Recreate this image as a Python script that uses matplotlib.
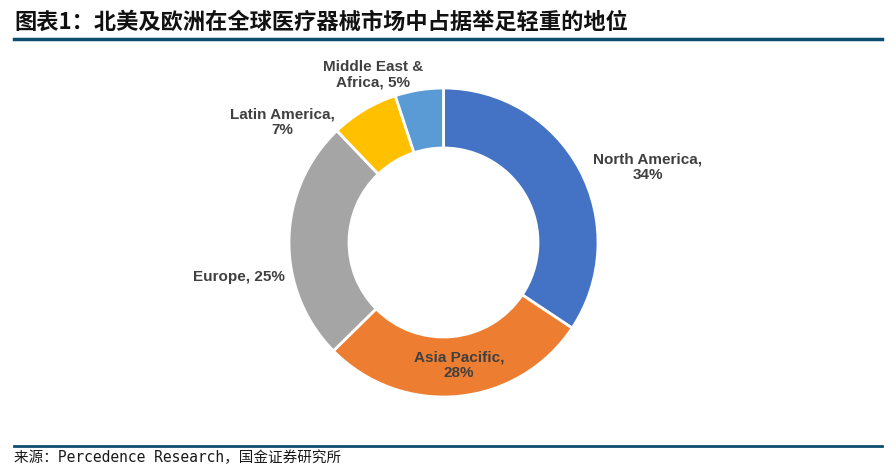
import numpy as np
import matplotlib.pyplot as plt

plt.rcParams['font.family'] = ['Liberation Sans', 'Noto Sans CJK SC', 'DejaVu Sans']

# 数据
regions = ['North America', 'Asia Pacific', 'Europe', 'Latin America', 'Middle East &\nAfrica']
shares = [34, 28, 25, 7, 5]
colors = ['#4472C4', '#ED7D31', '#A5A5A5', '#FFC000', '#5B9BD5']

title = '图表1：北美及欧洲在全球医疗器械市场中占据举足轻重的地位'
source = '来源：Percedence Research，国金证券研究所'

W, H = 896, 475
fig = plt.figure(figsize=(W / 100, H / 100), dpi=100)
ax = fig.add_axes([0, 0, 1, 1])

# 环形图
cx, cy, r = 443.5, H - 242.5, 154.5
wedges, _ = ax.pie(shares, colors=colors, startangle=90, counterclock=False,
                   center=(cx, cy), radius=r, frame=True,
                   wedgeprops=dict(width=60, edgecolor='white', linewidth=2))
ax.set_xlim(0, W)
ax.set_ylim(0, H)
ax.set_aspect('equal')
ax.axis('off')

# 标签 (相对圆心的偏移, 像素)
offsets = [(204.5, 75.5), (15.5, -122.5), (-204.5, -34.5), (-161.5, 120.5), (-70.5, 167.5)]
label_fmt = ['{},\n{}%', '{},\n{}%', '{}, {}%', '{},\n{}%', '{}, {}%']
for name, val, off, fmt in zip(regions, shares, offsets, label_fmt):
    ax.text(cx + off[0], cy + off[1], fmt.format(name, val), ha='center', va='center',
            fontsize=11, fontweight='bold', color='#404040', linespacing=1.15)

# 标题和来源
fig.text(14 / W, 1 - 22 / H, title, ha='left', va='center', fontsize=16,
         fontweight='bold', color='#111111', family=['Noto Sans CJK SC', 'DejaVu Sans'])
ax.plot([14, 882], [H - 39, H - 39], color='#0E4D72', linewidth=2.5)
ax.plot([14, 882], [H - 446, H - 446], color='#0E4D72', linewidth=2)
fig.text(14 / W, 1 - 458 / H, source, ha='left', va='center', fontsize=10.5,
         color='#1a1a1a', family=['DejaVu Sans Mono', 'Noto Sans CJK SC'])

fig.savefig('out.png', dpi=100)
